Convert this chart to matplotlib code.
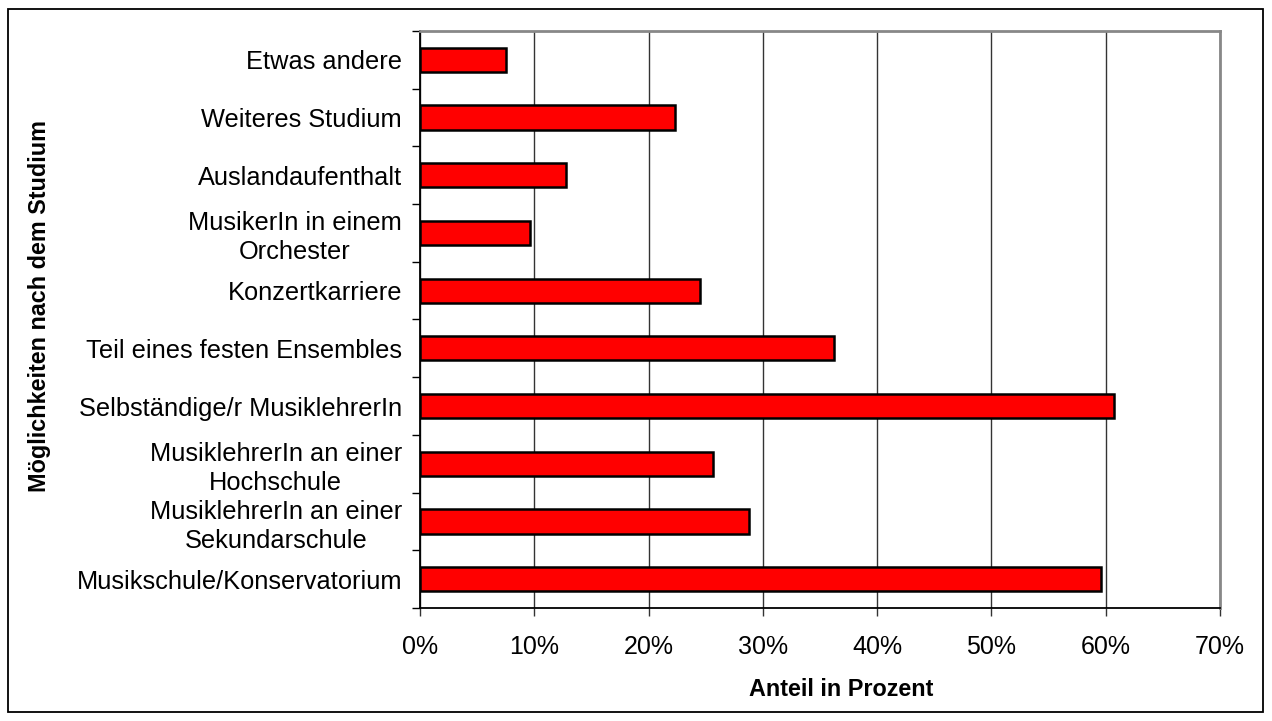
import matplotlib
matplotlib.use("Agg")
import matplotlib.pyplot as plt
from matplotlib.patches import Rectangle
from matplotlib.ticker import FixedLocator, FuncFormatter

categories = [
    "Etwas andere",
    "Weiteres Studium",
    "Auslandaufenthalt",
    "MusikerIn in einem\nOrchester",
    "Konzertkarriere",
    "Teil eines festen Ensembles",
    "Selbständige/r MusiklehrerIn",
    "MusiklehrerIn an einer\nHochschule",
    "MusiklehrerIn an einer\nSekundarschule",
    "Musikschule/Konservatorium",
]
values = [7.5, 22.3, 12.8, 9.6, 24.5, 36.2, 60.7, 25.6, 28.8, 59.6]
xticks = [0, 10, 20, 30, 40, 50, 60, 70]
xlabel = "Anteil in Prozent"
ylabel = "Möglichkeiten nach dem Studium"

plt.rcParams['font.family'] = ['Liberation Sans', 'DejaVu Sans']

fig = plt.figure(figsize=(12.72, 7.21), dpi=100)
ax = fig.add_axes([420/1272, 1-608/721, 800/1272, 577/721])

n = len(categories)
ypos = list(range(n))
ax.barh(ypos, values, height=0.42, color="#FF0000", edgecolor="black", linewidth=1.8, zorder=3)
ax.set_ylim(n - 0.5, -0.5)
ax.set_xlim(0, 70)

ax.set_yticks(ypos)
ax.set_yticklabels(categories, fontsize=18.3)
for lab in ax.get_yticklabels():
    lab.set_multialignment('center')
    lab.set_linespacing(1.25)
ax.yaxis.set_minor_locator(FixedLocator([i - 0.5 for i in range(n + 1)]))
ax.tick_params(axis='y', which='major', length=0, pad=13)
ax.tick_params(axis='y', which='minor', length=5.5, width=1, direction='out', color='black')

ax.set_xticks(xticks)
ax.xaxis.set_major_formatter(FuncFormatter(lambda v, p: f"{int(v)}%"))
ax.tick_params(axis='x', which='major', length=5.5, width=1, direction='out', pad=14, labelsize=18, color='#333333')

ax.grid(axis='x', color='#333333', linewidth=1.0, zorder=0)
ax.set_axisbelow(True)

for side in ['left', 'bottom']:
    ax.spines[side].set_color('black')
    ax.spines[side].set_linewidth(1.3)
for side in ['right', 'top']:
    ax.spines[side].set_color('#888888')
    ax.spines[side].set_linewidth(2.0)

fig.text(841/1272, 1-690/721, xlabel, ha='center', va='center', fontsize=16.8, fontweight='bold')
fig.text(40/1272, 1-306/721, ylabel, ha='center', va='center', rotation=90, fontsize=16.8, fontweight='bold')

fig.patches.append(Rectangle((8/1272, 1-712/721), (1263-8)/1272, (712-9)/721,
                             transform=fig.transFigure, fill=False, edgecolor='black', linewidth=1.3))

fig.savefig("out.png", dpi=100)
